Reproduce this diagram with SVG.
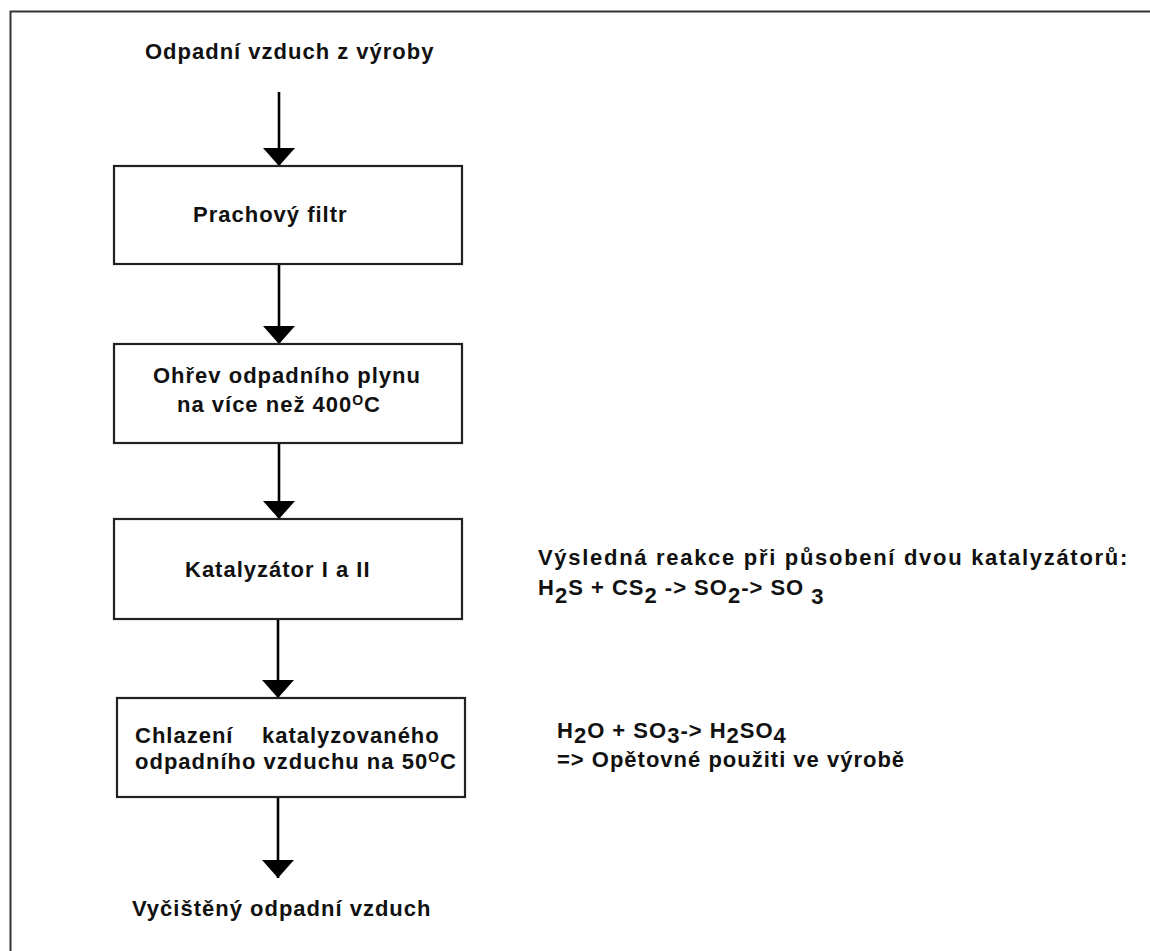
<svg xmlns="http://www.w3.org/2000/svg" width="1150" height="951" viewBox="0 0 1150 951">
  <style>
    .t { font-family: "Liberation Sans", Arial, sans-serif; font-weight: bold; font-size: 22px; letter-spacing: 1px; fill: #111; }
    .wide { letter-spacing: 1.7px; }
    .box { fill: #fff; stroke: #222; stroke-width: 2.2; }
    .edge { stroke: #000; stroke-width: 2.6; fill: none; marker-end: url(#arrow); }
    .frame { fill: #fff; stroke: #333; stroke-width: 2; }
  </style>
  <defs>
    <marker id="arrow" markerUnits="userSpaceOnUse" markerWidth="20" markerHeight="34" refX="18" refY="16" orient="auto">
      <path d="M0,0 L18,16 L0,32 Z" fill="#000"/>
    </marker>
  </defs>

  <rect width="1150" height="951" fill="#fff"/>
  <!-- outer frame, running off the right and bottom edges -->
  <rect class="frame" x="10.5" y="11.5" width="1200" height="1000"/>

  <g id="connectors">
    <line class="edge" x1="279" y1="92" x2="279" y2="166"/>
    <line class="edge" x1="279" y1="264" x2="279" y2="344"/>
    <line class="edge" x1="279" y1="443" x2="279" y2="519"/>
    <line class="edge" x1="278" y1="619" x2="278" y2="698"/>
    <line class="edge" x1="278" y1="797" x2="278" y2="878"/>
  </g>

  <g id="input">
    <text class="t" x="145" y="59">Odpadní vzduch z výroby</text>
  </g>

  <g id="dust-filter">
    <rect class="box" x="114" y="166" width="348" height="98"/>
    <text class="t" x="193" y="222">Prachový filtr</text>
  </g>

  <g id="heating">
    <rect class="box" x="114" y="344" width="348" height="99"/>
    <text class="t" x="153" y="383">Ohřev odpadního plynu</text>
    <text class="t" x="177" y="412">na více než 400<tspan font-size="14" dy="-7">O</tspan><tspan dy="7">C</tspan></text>
  </g>

  <g id="catalyst">
    <rect class="box" x="114" y="519" width="348" height="100"/>
    <text class="t" x="185" y="577">Katalyzátor I a II</text>
  </g>

  <g id="cooling">
    <rect class="box" x="117" y="698" width="348" height="99"/>
    <text class="t" x="135" y="743" xml:space="preserve">Chlazení    katalyzovaného</text>
    <text class="t" x="135" y="769">odpadního vzduchu na 50<tspan font-size="14" dy="-7">O</tspan><tspan dy="7">C</tspan></text>
  </g>

  <g id="output">
    <text class="t" x="132" y="916">Vyčištěný odpadní vzduch</text>
  </g>

  <g id="reaction-note">
    <text class="t wide" x="538" y="565">Výsledná reakce při působení dvou katalyzátorů:</text>
    <text class="t" x="538" y="595">H<tspan dy="8">2</tspan><tspan dy="-8">S + CS</tspan><tspan dy="8">2</tspan><tspan dy="-8"> -&gt; SO</tspan><tspan dy="8">2</tspan><tspan dy="-8">-&gt; SO </tspan><tspan dy="9">3</tspan></text>
  </g>

  <g id="acid-note">
    <text class="t" x="557" y="738">H<tspan dy="5">2</tspan><tspan dy="-5">O + SO</tspan><tspan dy="5">3</tspan><tspan dy="-5">-&gt; H</tspan><tspan dy="5">2</tspan><tspan dy="-5">SO</tspan><tspan dy="5">4</tspan></text>
    <text class="t" x="557" y="767">=&gt; Opětovné použiti ve výrobě</text>
  </g>
</svg>
